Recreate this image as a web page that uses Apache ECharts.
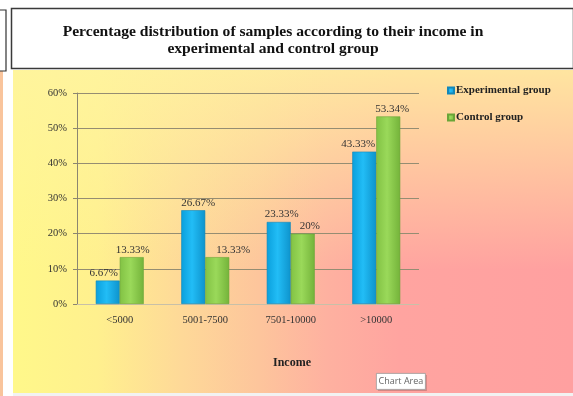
<!DOCTYPE html>
<html>
<head>
<meta charset="utf-8">
<script src="https://cdn.jsdelivr.net/npm/echarts@6/dist/echarts.min.js"></script>
<style>
  html, body { margin: 0; padding: 0; background: #ffffff; }
  #chart { width: 573px; height: 396px; }
</style>
</head>
<body>
<div id="chart"></div>
<script>
// Income groups and the percentage of samples in each group
const categories = ['<5000', '5001-7500', '7501-10000', '>10000'];
const experimental = [6.67, 26.67, 23.33, 43.33];
const control = [13.33, 13.33, 20, 53.34];
const seriesNames = ['Experimental group', 'Control group'];
const titleText = 'Percentage distribution of samples according to their income in\nexperimental and control group';
const axisName = 'Income';

// small nudges for the value labels (pixels)
const expLabelOffsets = [[-4, 0], [5, 0], [3, 0], [-6, 0]];
const ctlLabelOffsets = [[1, 0], [16, 0], [7, 0], [4, 0]];

const serif = '"Liberation Serif", "Times New Roman", serif';

const chart = echarts.init(document.getElementById('chart'), null, { renderer: 'canvas' });

function barFill(c1, c2, c3) {
  return new echarts.graphic.LinearGradient(0, 0, 1, 0, [
    { offset: 0, color: c1 },
    { offset: 0.45, color: c2 },
    { offset: 1, color: c3 }
  ]);
}

function labelStyle() {
  return {
    show: true,
    position: 'top',
    distance: 2,
    fontFamily: serif,
    fontSize: 11,
    color: '#333',
    formatter: p => p.value + '%'
  };
}

function withOffsets(values, offsets) {
  return values.map((v, i) => ({ value: v, label: { offset: offsets[i] } }));
}

chart.setOption({
  backgroundColor: '#ffffff',
  animation: false,
  graphic: [
    // thin strip on the far left
    { type: 'rect', z: -10, shape: { x: 0, y: 71, width: 3, height: 325 }, style: { fill: '#f9c49c' } },
    { type: 'rect', z: -10, shape: { x: -2, y: 10, width: 8, height: 61 }, style: { fill: '#fff', stroke: '#333', lineWidth: 1.2 } },
    // chart area background: warm horizontal blend
    {
      type: 'rect', z: -10,
      shape: { x: 13, y: 70, width: 560, height: 323 },
      style: {
        fill: new echarts.graphic.LinearGradient(13, 0, 573, 0, [
          { offset: 0, color: '#fff88a' },
          { offset: 0.15, color: '#fff08e' },
          { offset: 0.3, color: '#fed998' },
          { offset: 0.44, color: '#fdc59c' },
          { offset: 0.56, color: '#feb1a0' },
          { offset: 0.69, color: '#ffa4a0' },
          { offset: 1, color: '#ffa0a0' }
        ], true)
      }
    },
    // lighter band along the top
    {
      type: 'rect', z: -9,
      shape: { x: 13, y: 70, width: 560, height: 323 },
      style: {
        fill: new echarts.graphic.LinearGradient(0, 70, 0, 270, [
          { offset: 0, color: 'rgba(255,244,160,0.82)' },
          { offset: 1, color: 'rgba(255,244,160,0)' }
        ], true)
      }
    },
    { type: 'rect', z: -8, shape: { x: 13, y: 393, width: 560, height: 3 }, style: { fill: '#f2f2f2' } },
    // title box
    { type: 'rect', z: -5, shape: { x: 11.5, y: 8.5, width: 562, height: 60 }, style: { fill: '#ffffff', stroke: '#3a3a3a', lineWidth: 1.5 } },
    // "Chart Area" hover note
    {
      type: 'group', left: 376, top: 373, z: 20,
      children: [
        { type: 'rect', shape: { x: 1.5, y: 1.5, width: 49, height: 16 }, style: { fill: 'rgba(0,0,0,0.18)' } },
        { type: 'rect', shape: { x: 0, y: 0, width: 49, height: 16 }, style: { fill: '#ffffff', stroke: '#9a9a9a', lineWidth: 0.8 } },
        { type: 'text', style: { x: 24.5, y: 8, text: 'Chart Area', align: 'center', verticalAlign: 'middle', font: '9px "Open Sans", sans-serif', fill: '#666' } }
      ]
    }
  ],
  title: {
    text: titleText,
    left: 268,
    textAlign: 'center',
    top: 18,
    textStyle: { fontFamily: serif, fontWeight: 'bold', fontSize: 15.6, lineHeight: 17, color: '#111' }
  },
  legend: {
    orient: 'vertical',
    left: 442,
    top: 80,
    itemWidth: 6,
    itemHeight: 6,
    itemGap: 16,
    icon: 'rect',
    textStyle: { fontFamily: serif, fontWeight: 'bold', fontSize: 11, color: '#222', padding: [0, 0, 0, -3] },
    data: seriesNames
  },
  grid: { left: 77, right: 154, top: 93, bottom: 92 },
  xAxis: {
    type: 'category',
    data: categories,
    name: axisName,
    nameLocation: 'middle',
    nameGap: 53,
    nameTextStyle: { fontFamily: serif, fontWeight: 'bold', fontSize: 12, color: '#222', padding: [0, 0, 0, 88] },
    axisLine: { lineStyle: { color: '#c8c0a8', width: 1 } },
    axisTick: { show: false },
    axisLabel: { fontFamily: serif, fontSize: 10.5, color: '#333', margin: 11 }
  },
  yAxis: {
    type: 'value',
    min: 0,
    max: 60,
    interval: 10,
    axisLine: { show: true, lineStyle: { color: '#8c8670', width: 1 } },
    axisTick: { show: true, length: 4, lineStyle: { color: '#8c8670' } },
    axisLabel: { fontFamily: serif, fontSize: 10.5, color: '#333', margin: 10, formatter: '{value}%' },
    splitLine: { lineStyle: { color: '#958d72', width: 1 } }
  },
  series: [
    {
      name: seriesNames[0],
      type: 'bar',
      data: withOffsets(experimental, expLabelOffsets),
      barWidth: 24,
      barGap: '0%',
      itemStyle: { color: barFill('#0a9fdc', '#22bdf6', '#0e93cc'), borderColor: '#1487b8', borderWidth: 0.6 },
      label: labelStyle()
    },
    {
      name: seriesNames[1],
      type: 'bar',
      data: withOffsets(control, ctlLabelOffsets),
      barWidth: 24,
      itemStyle: { color: barFill('#82c244', '#9ad95a', '#74b33a'), borderColor: '#6aa538', borderWidth: 0.6 },
      label: labelStyle()
    }
  ]
});
</script>
</body>
</html>
